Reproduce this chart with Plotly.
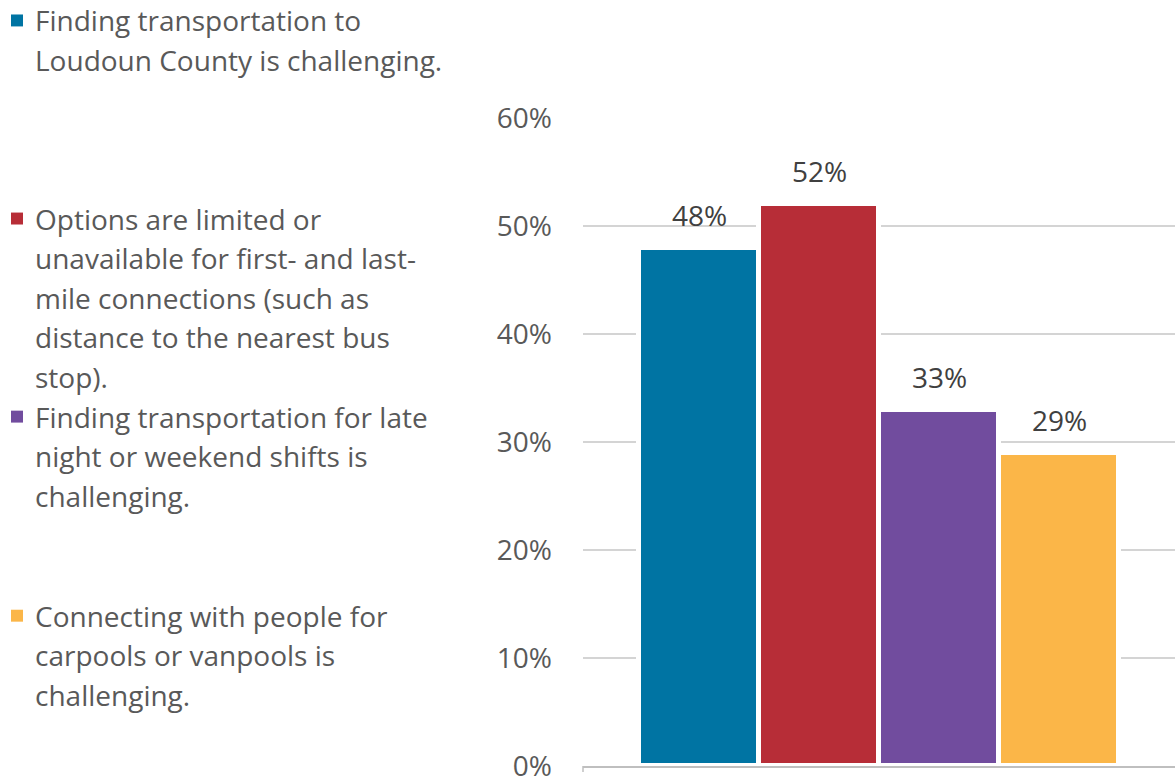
import plotly.graph_objects as go

# Survey results: share of respondents agreeing with each transportation challenge
categories = [
    "Finding transportation to Loudoun County is challenging.",
    "Options are limited or unavailable for first- and last-mile connections (such as distance to the nearest bus stop).",
    "Finding transportation for late night or weekend shifts is challenging.",
    "Connecting with people for carpools or vanpools is challenging.",
]
legend_lines = [
    ["Finding transportation to", "Loudoun County is challenging."],
    ["Options are limited or", "unavailable for first- and last-",
     "mile connections (such as", "distance to the nearest bus", "stop)."],
    ["Finding transportation for late", "night or weekend shifts is",
     "challenging."],
    ["Connecting with people for", "carpools or vanpools is",
     "challenging."],
]
values = [48, 52, 33, 29]
colors = ["#0074A3", "#B72D37", "#714C9E", "#FBB648"]

y_ticks = [0, 10, 20, 30, 40, 50, 60]

W, H = 1175, 784
L, R, T, B = 583, 0, 118, 15
PW, PH = W - L - R, H - T - B

FONT = "Open Sans"
TEXT_COLOR = "#595959"


def px_x(px):
    return (px - L) / PW


def px_y(py):
    return (H - B - py) / PH


fig = go.Figure()
for i, (cat, val, col) in enumerate(zip(categories, values, colors)):
    fig.add_trace(go.Bar(
        x=[i], y=[val], name=cat,
        marker=dict(color=col, line=dict(color="white", width=5)),
        width=1, showlegend=False, hoverinfo="skip",
    ))

annotations = []
# value labels above each bar
for i, val in enumerate(values):
    annotations.append(dict(
        x=i, y=val, xref="x", yref="y", text=f"{val}%", showarrow=False,
        yanchor="middle", yshift=33,
        font=dict(family=FONT, size=28, color="#404040"),
    ))

# legend: colored squares with wrapped text, evenly spaced entries
shapes = []
entry_top = [20, 219, 418, 618]
line_step = 39.7
for lines, top, col in zip(legend_lines, entry_top, colors):
    shapes.append(dict(
        type="rect", xref="paper", yref="paper",
        x0=px_x(11), x1=px_x(23), y0=px_y(top + 6), y1=px_y(top - 6),
        fillcolor=col, line=dict(width=0), layer="above",
    ))
    for k, txt in enumerate(lines):
        annotations.append(dict(
            x=px_x(33), y=px_y(top + k * line_step), xref="paper",
            yref="paper", text=txt, showarrow=False, xanchor="left",
            yanchor="middle", align="left",
            font=dict(family=FONT, size=28, color=TEXT_COLOR),
        ))

# small tick at the left end of the category axis
shapes.append(dict(
    type="line", xref="paper", yref="paper", x0=0, x1=0,
    y0=0, y1=px_y(H - B + 6), line=dict(color="#BFBFBF", width=1.5),
))

fig.update_layout(
    width=W, height=H,
    margin=dict(l=L, r=R, t=T, b=B, pad=0),
    paper_bgcolor="white", plot_bgcolor="white",
    barmode="overlay", bargap=0,
    showlegend=False,
    annotations=annotations, shapes=shapes,
    xaxis=dict(
        range=[-0.5 - 0.4667, 3.5 + 0.4667], showticklabels=False,
        showgrid=False, zeroline=False, showline=True,
        linecolor="#BFBFBF", linewidth=1.5, ticks="",
    ),
    yaxis=dict(
        range=[0, 60], tickvals=y_ticks,
        ticktext=[f"{v}%" for v in y_ticks],
        showgrid=True, gridcolor="#D4D4D4", gridwidth=1.5,
        zeroline=False, showline=False, ticks="",
        ticklabelstandoff=30, ticklabeloverflow="allow",
        tickfont=dict(family=FONT, size=28, color=TEXT_COLOR),
    ),
)

fig.write_html("out.html")
